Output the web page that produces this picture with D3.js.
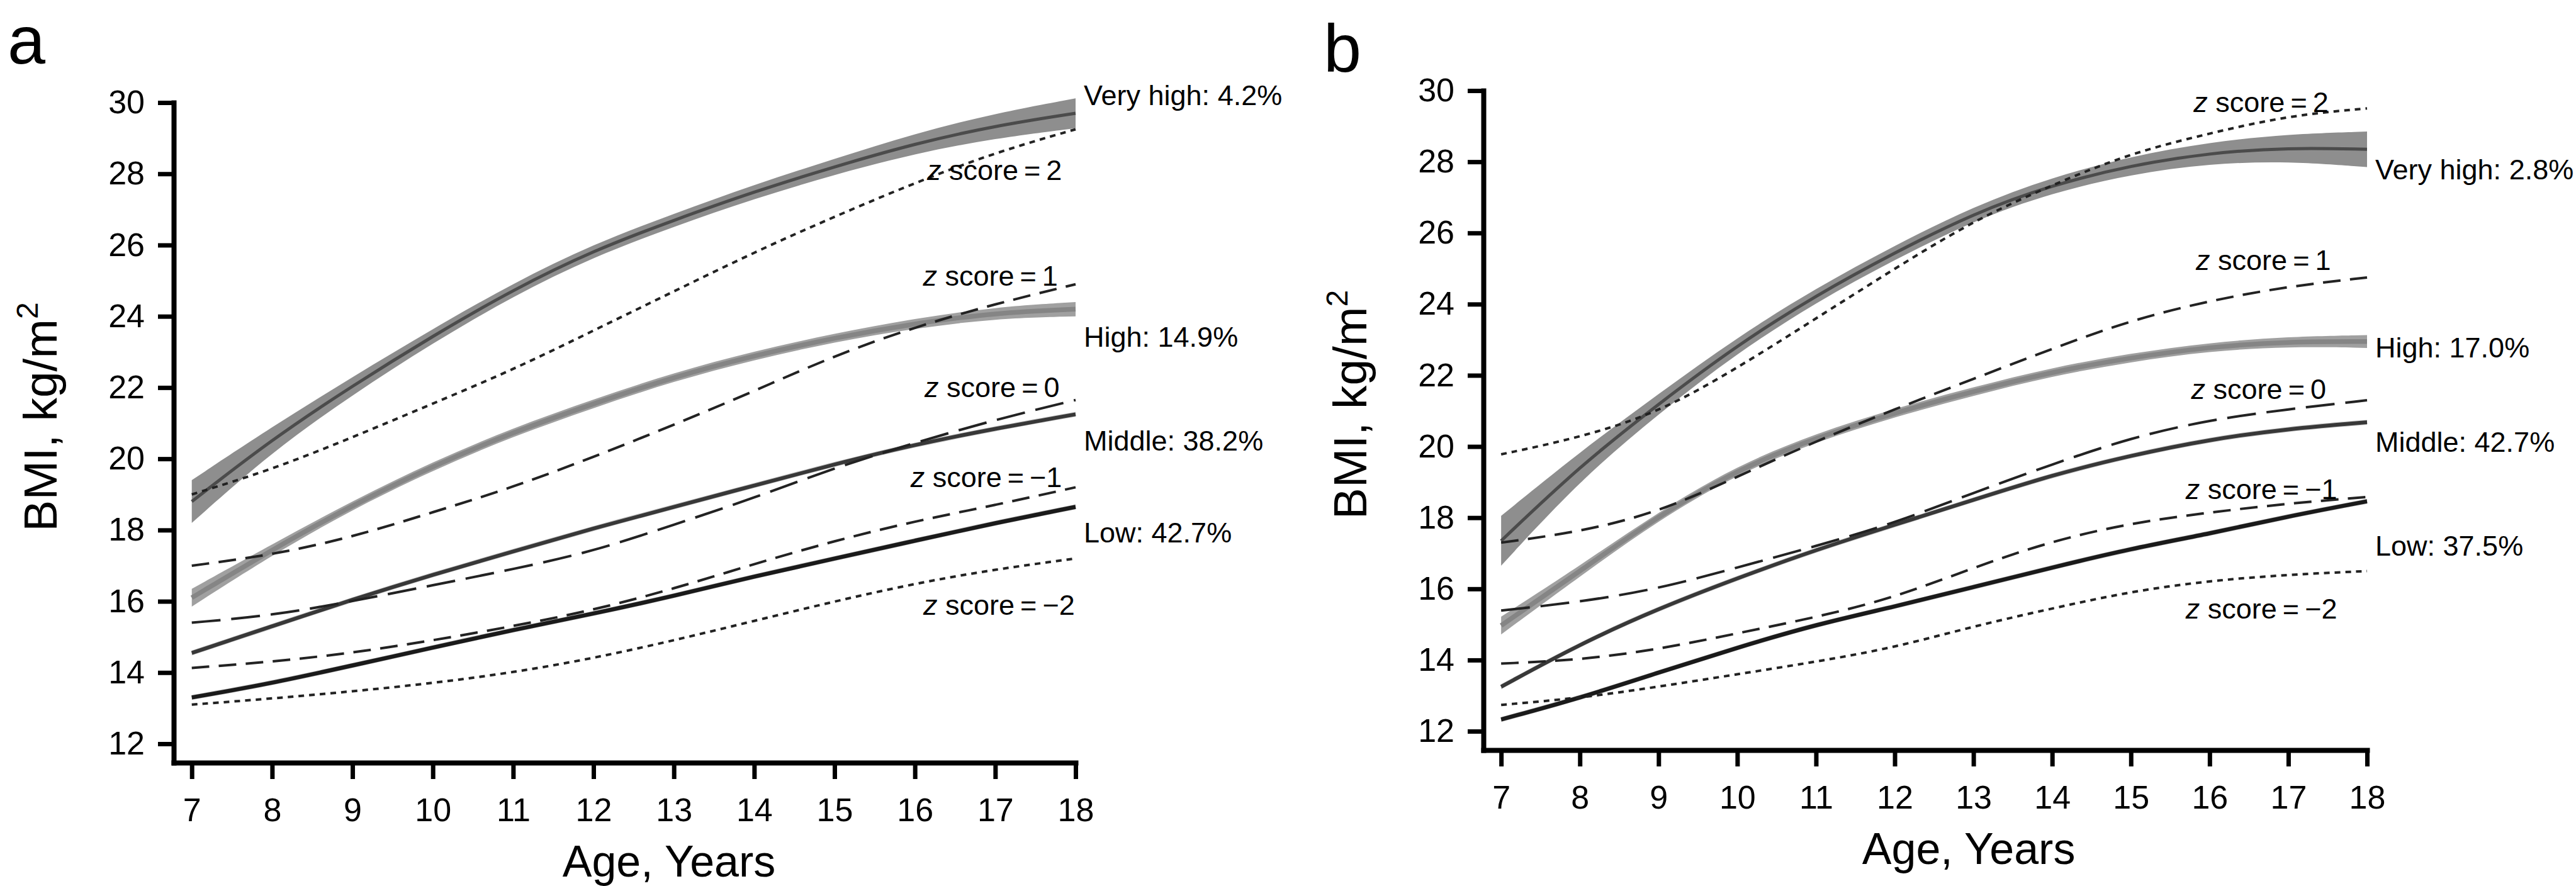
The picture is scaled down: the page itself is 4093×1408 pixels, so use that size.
<!DOCTYPE html>
<html>
<head>
<meta charset="utf-8">
<script src="https://cdn.jsdelivr.net/npm/d3@7"></script>
<style>
  body { margin: 0; background: #fff; }
  svg text { font-family: "Liberation Sans", Arial, sans-serif; fill: #000; }
</style>
</head>
<body>
<div id="container"></div>
<script>
// ages and ticks
const ages = [7, 8, 9, 10, 11, 12, 13, 14, 15, 16, 17, 18];
const ageTicks = [7, 8, 9, 10, 11, 12, 13, 14, 15, 16, 17, 18];
const bmiTicks = [12, 14, 16, 18, 20, 22, 24, 26, 28, 30];

// panel a : group trajectories (BMI) and band half widths
const veryHighA = [18.8, 20.55, 22.05, 23.45, 24.75, 25.85, 26.7, 27.5, 28.2, 28.85, 29.35, 29.7];
const veryHighBandA = [0.6, 0.35, 0.25, 0.2, 0.18, 0.18, 0.18, 0.2, 0.22, 0.28, 0.35, 0.42];
const highA = [16.1, 17.45, 18.7, 19.8, 20.75, 21.55, 22.3, 22.9, 23.4, 23.8, 24.1, 24.2];
const highBandA = [0.25, 0.15, 0.12, 0.12, 0.12, 0.12, 0.12, 0.12, 0.12, 0.14, 0.16, 0.2];
const middleA = [14.55, 15.3, 16.05, 16.75, 17.4, 18.05, 18.65, 19.25, 19.85, 20.4, 20.85, 21.25];
const lowA = [13.3, 13.7, 14.2, 14.7, 15.2, 15.65, 16.15, 16.7, 17.2, 17.7, 18.2, 18.65];
// panel a : reference z score curves
const z2A = [19.0, 19.7, 20.6, 21.55, 22.5, 23.6, 24.7, 25.8, 26.8, 27.75, 28.6, 29.25];
const z1A = [17.0, 17.3, 17.8, 18.5, 19.2, 20.05, 20.95, 21.9, 22.9, 23.7, 24.35, 24.9];
const z0A = [15.4, 15.6, 16.0, 16.45, 16.9, 17.4, 18.15, 18.9, 19.75, 20.45, 21.1, 21.65];
const zm1A = [14.13, 14.3, 14.55, 14.9, 15.3, 15.75, 16.35, 17.05, 17.7, 18.25, 18.7, 19.2];
const zm2A = [13.1, 13.27, 13.47, 13.7, 14.0, 14.4, 14.9, 15.45, 16.0, 16.5, 16.9, 17.2];

// panel b
const veryHighB = [17.35, 19.45, 21.2, 22.85, 24.25, 25.45, 26.55, 27.35, 27.9, 28.25, 28.4, 28.35];
const veryHighBandB = [0.7, 0.4, 0.28, 0.22, 0.2, 0.2, 0.2, 0.22, 0.25, 0.3, 0.38, 0.5];
const highB = [14.97, 16.5, 18.05, 19.35, 20.25, 20.95, 21.55, 22.1, 22.5, 22.8, 22.95, 22.95];
const highBandB = [0.25, 0.15, 0.12, 0.12, 0.12, 0.12, 0.12, 0.12, 0.12, 0.12, 0.14, 0.18];
const middleB = [13.25, 14.45, 15.45, 16.3, 17.1, 17.8, 18.5, 19.2, 19.75, 20.2, 20.5, 20.68];
const lowB = [12.33, 12.93, 13.65, 14.35, 15.0, 15.5, 16.05, 16.6, 17.13, 17.55, 18.04, 18.46];
const z2B = [19.78, 20.25, 20.95, 22.2, 23.6, 25.0, 26.35, 27.35, 28.25, 28.8, 29.3, 29.5];
const z1B = [17.3, 17.6, 18.15, 19.15, 20.15, 21.05, 21.9, 22.75, 23.55, 24.1, 24.5, 24.75];
const z0B = [15.39, 15.63, 16.0, 16.6, 17.2, 17.85, 18.7, 19.5, 20.25, 20.75, 21.05, 21.3];
const zm1B = [13.9, 14.0, 14.3, 14.75, 15.2, 15.75, 16.6, 17.35, 17.85, 18.15, 18.4, 18.58];
const zm2B = [12.74, 12.93, 13.25, 13.6, 13.95, 14.35, 14.95, 15.45, 15.93, 16.23, 16.4, 16.5];

// labels
const groupNames = ["Very high", "High", "Middle", "Low"];
const groupShareA = ["4.2%", "14.9%", "38.2%", "42.7%"];
const groupShareB = ["2.8%", "17.0%", "42.7%", "37.5%"];
const groupLabelBmiA = [29.93, 23.15, 20.23, 17.65];
const groupLabelBmiB = [27.5, 22.5, 19.85, 16.94];
const zScores = ["2", "1", "0", "\u22121", "\u22122"];
const zLabelBmiA = [27.83, 24.86, 21.73, 19.2, 15.62];
const zLabelAgeA = [17.83, 17.78, 17.8, 17.83, 17.99];
const zLabelBmiB = [29.4, 24.96, 21.34, 18.52, 15.16];
const zLabelAgeB = [17.51, 17.54, 17.48, 17.62, 17.62];

const width = 4093, height = 1408;

let svg = d3.select("#container")
  .append("svg")
  .attr("width", width)
  .attr("height", height);

// layout of the two panels (pixel frames, not data)
let panels = [
  {
    letter: "a", letterX: 12, letterY: 101,
    xRange: [276, 1709], yRange: [1212, 163],
    groups: [veryHighA, highA, middleA, lowA],
    bands: [veryHighBandA, highBandA],
    shares: groupShareA, groupBmi: groupLabelBmiA,
    zs: [z2A, z1A, z0A, zm1A, zm2A], zBmi: zLabelBmiA, zAge: zLabelAgeA
  },
  {
    letter: "b", letterX: 2103, letterY: 114,
    xRange: [2357, 3761], yRange: [1192, 144],
    groups: [veryHighB, highB, middleB, lowB],
    bands: [veryHighBandB, highBandB],
    shares: groupShareB, groupBmi: groupLabelBmiB,
    zs: [z2B, z1B, z0B, zm1B, zm2B], zBmi: zLabelBmiB, zAge: zLabelAgeB
  }
];

// line look per group and per z score
const groupStyle = [
  { line: "#4b4b4b", width: 5, band: "#8e8e8e" },
  { line: "#858585", width: 7.5, band: "#a0a0a0" },
  { line: "#383838", width: 6, band: "#9a9a9a" },
  { line: "#1a1a1a", width: 6.5, band: "#9a9a9a" }
];
const zDash = ["9,8", "28,15", "46,17", "28,15", "9,8"];

panels.forEach(drawPanel);

function drawPanel(p) {
  let x = d3.scaleLinear().domain([6.775, 18]).range(p.xRange);
  let y = d3.scaleLinear().domain([11.47, 30]).range(p.yRange);

  let g = svg.append("g");

  let line = d3.line()
    .x(function(d) { return x(d[0]); })
    .y(function(d) { return y(d[1]); })
    .curve(d3.curveBasis);

  let area = d3.area()
    .x(function(d) { return x(d[0]); })
    .y0(function(d) { return y(d[1] - d[2]); })
    .y1(function(d) { return y(d[1] + d[2]); })
    .curve(d3.curveBasis);

  // confidence bands (middle and low get a thin fixed band)
  p.groups.forEach(function(vals, i) {
    let half = p.bands[i] || ages.map(function() { return 0.07; });
    g.append("path")
      .datum(ages.map(function(a, j) { return [a, vals[j], half[j]]; }))
      .attr("d", area)
      .attr("fill", groupStyle[i].band)
      .attr("opacity", i < 2 ? 1 : 0.6);
  });

  p.groups.forEach(function(vals, i) {
    g.append("path")
      .datum(ages.map(function(a, j) { return [a, vals[j]]; }))
      .attr("d", line)
      .attr("fill", "none")
      .attr("stroke", groupStyle[i].line)
      .attr("stroke-width", groupStyle[i].width);
  });

  p.zs.forEach(function(vals, i) {
    g.append("path")
      .datum(ages.map(function(a, j) { return [a, vals[j]]; }))
      .attr("d", line)
      .attr("fill", "none")
      .attr("stroke", "#222")
      .attr("stroke-width", 4)
      .attr("stroke-dasharray", zDash[i]);
  });

  // axes
  let xAxis = g.append("g")
    .attr("transform", "translate(0," + p.yRange[0] + ")")
    .call(d3.axisBottom(x).tickValues(ageTicks).tickSize(26).tickSizeOuter(0).tickPadding(30));

  let yAxis = g.append("g")
    .attr("transform", "translate(" + p.xRange[0] + ",0)")
    .call(d3.axisLeft(y).tickValues(bmiTicks).tickSize(25).tickSizeOuter(0).tickPadding(21));

  [xAxis, yAxis].forEach(function(ax) {
    ax.select(".domain")
      .attr("stroke", "#000")
      .attr("stroke-width", 8)
      .attr("stroke-linecap", "square");
    ax.selectAll(".tick line")
      .attr("stroke", "#000")
      .attr("stroke-width", 7);
    ax.selectAll(".tick text")
      .attr("font-size", 52)
      .attr("font-family", "Liberation Sans, Arial, sans-serif");
  });

  // axis titles
  g.append("text")
    .attr("x", x(12.94))
    .attr("y", p.yRange[0] + 181)
    .attr("text-anchor", "middle")
    .attr("font-size", 70)
    .text("Age, Years");

  let yt = g.append("text")
    .attr("transform", "translate(" + (p.xRange[0] - 186) + "," + ((p.yRange[0] + p.yRange[1]) / 2 - 25) + ") rotate(-90)")
    .attr("text-anchor", "middle")
    .attr("font-size", 75);
  yt.append("tspan").text("BMI, kg/m");
  yt.append("tspan").attr("font-size", 48).attr("dy", -30).text("2");

  // group labels
  groupNames.forEach(function(name, i) {
    g.append("text")
      .attr("x", x(18) + 13)
      .attr("y", y(p.groupBmi[i]))
      .attr("font-size", 45)
      .text(name + ": " + p.shares[i]);
  });

  // z score labels
  zScores.forEach(function(z, i) {
    let t = g.append("text")
      .attr("x", x(p.zAge[i]))
      .attr("y", y(p.zBmi[i]))
      .attr("text-anchor", "end")
      .attr("font-size", 45);
    t.append("tspan").attr("font-style", "italic").text("z");
    t.append("tspan").text(" score\u2009=\u2009" + z);
  });

  svg.append("text")
    .attr("x", p.letterX)
    .attr("y", p.letterY)
    .attr("font-size", 108)
    .text(p.letter);
}
</script>
</body>
</html>
